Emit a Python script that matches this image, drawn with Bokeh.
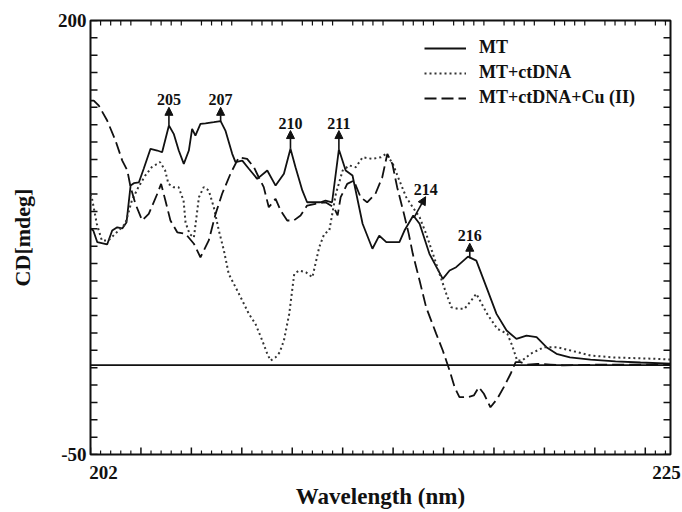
import math
from bokeh.plotting import figure
from bokeh.models import (Range1d, LinearAxis, FixedTicker, Span, LabelSet,
                          Arrow, NormalHead, ColumnDataSource, Legend, LegendItem)
from bokeh.embed import file_html
from bokeh.resources import INLINE

# ---------------- data ----------------
mt_x = [202.0, 202.11, 202.27, 202.66, 202.86, 203.06, 203.26, 203.43, 203.59, 203.72,
        203.92, 204.11, 204.38, 204.65, 204.84, 205.11, 205.30, 205.50, 205.70, 205.90,
        206.03, 206.16, 206.36, 206.56, 206.89, 207.16, 207.35, 207.62, 207.75, 208.02,
        208.28, 208.61, 209.01, 209.34, 209.67, 209.93, 210.13, 210.40, 210.59, 211.12,
        211.32, 211.58, 211.85, 212.12, 212.39, 212.79, 213.18, 213.45, 213.73, 213.99,
        214.25, 214.45, 214.80, 215.05, 215.44, 215.97, 216.24, 216.50, 216.97, 217.30,
        217.70, 218.10, 218.50, 218.89, 219.29, 219.69, 220.08, 220.48, 221.01, 221.83,
        222.82, 223.81, 225.0]
mt_y = [80.2, 79.0, 72.3, 71.0, 79.0, 80.9, 80.2, 83.8, 104.9, 106.3,
        106.8, 114.6, 126.1, 125.1, 124.1, 139.5, 134.7, 125.1, 117.4, 125.1,
        137.6, 133.7, 140.5, 140.8, 141.4, 142.0, 136.6, 123.2, 118.4, 119.3,
        114.6, 108.8, 113.6, 104.9, 111.7, 126.1, 115.5, 102.1, 95.3, 95.3,
        96.3, 95.3, 125.7, 113.6, 110.7, 82.9, 68.5, 76.1, 72.3, 72.3,
        72.3, 79.0, 87.7, 82.9, 65.6, 51.2, 56.0, 57.9, 64.0, 61.7,
        46.4, 31.0, 21.4, 16.6, 18.5, 17.6, 11.8, 8.0, 6.0, 4.7,
        3.6, 3.0, 2.4]

ct_x = [202.0, 202.05, 202.25, 202.45, 202.71, 203.11, 203.38, 203.64, 203.90, 204.17,
        204.43, 204.76, 204.96, 205.09, 205.29, 205.49, 205.69, 205.77, 205.93, 206.10,
        206.30, 206.49, 206.69, 206.89, 207.09, 207.29, 207.48, 207.75, 208.02, 208.28,
        208.54, 208.81, 209.01, 209.14, 209.34, 209.50, 209.67, 209.88, 210.08, 210.28,
        210.54, 210.80, 211.07, 211.27, 211.47, 211.73, 212.00, 212.26, 212.52, 212.79,
        213.18, 213.51, 213.73, 213.99, 214.25, 214.52, 214.78, 215.05, 215.31, 215.58,
        215.84, 216.11, 216.31, 216.57, 216.83, 217.10, 217.30, 217.73, 218.13, 218.53,
        218.72, 218.92, 219.12, 219.45, 219.98, 220.51, 221.04, 221.83, 222.75, 224.08,
        225.0]
ct_y = [100.0, 98.2, 82.9, 73.3, 73.3, 79.0, 82.9, 96.3, 104.0, 110.7,
        115.5, 118.4, 113.6, 105.9, 104.0, 104.0, 96.3, 83.6, 77.0, 75.0,
        98.2, 104.0, 102.1, 92.4, 79.0, 67.5, 54.1, 46.4, 38.7, 31.0,
        25.3, 15.7, 8.0, 4.1, 6.0, 8.8, 15.7, 31.0, 54.1, 56.0,
        55.0, 52.1, 69.4, 77.1, 79.0, 100.2, 113.6, 116.5, 115.5, 121.2,
        120.3, 121.2, 123.2, 117.4, 107.8, 98.2, 92.4, 86.7, 77.1, 65.6,
        54.1, 42.6, 34.8, 33.9, 33.9, 38.7, 42.6, 31.0, 22.4, 19.5,
        12.8, 4.1, 4.1, 8.0, 11.8, 11.8, 9.9, 7.0, 5.9, 5.3,
        4.7]

cu_x = [202.0, 202.13, 202.33, 202.66, 202.99, 203.26, 203.46, 203.59, 203.78, 204.05,
        204.31, 204.65, 204.80, 204.97, 205.17, 205.44, 205.77, 206.10, 206.36, 206.69,
        206.96, 207.22, 207.55, 207.88, 208.21, 208.48, 208.67, 208.87, 209.07, 209.34,
        209.54, 209.80, 210.06, 210.33, 210.59, 210.92, 211.32, 211.65, 211.80, 211.92,
        212.18, 212.44, 212.71, 212.97, 213.30, 213.57, 213.77, 213.97, 214.16, 214.43,
        214.62, 214.78, 215.05, 215.31, 215.71, 215.97, 216.24, 216.44, 216.63, 216.94,
        217.20, 217.40, 217.60, 217.86, 218.13, 218.39, 218.66, 218.86, 219.05, 219.32,
        219.72, 220.24, 220.77, 222.23, 223.81, 225.0]
cu_y = [153.9, 153.9, 151.0, 142.4, 130.9, 119.3, 113.6, 104.0, 94.4, 84.8,
        88.6, 100.2, 105.9, 96.3, 84.8, 78.0, 77.1, 71.4, 63.6, 73.3,
        88.6, 100.2, 111.7, 121.2, 120.3, 115.5, 109.7, 104.0, 92.4, 97.3,
        90.5, 84.8, 84.8, 87.7, 93.4, 94.4, 95.3, 92.4, 87.7, 98.2,
        105.9, 107.8, 98.2, 95.3, 100.2, 109.7, 123.2, 117.4, 104.0, 88.6,
        77.1, 65.6, 50.2, 34.8, 19.5, 9.9, -1.6, -11.2, -17.0, -17.0,
        -16.0, -11.2, -15.0, -22.8, -17.9, -11.2, -3.5, 3.2, 3.2, 1.8,
        2.2, 1.8, 1.3, 1.8, 1.8, 1.8]

series_names = ["MT", "MT+ctDNA", "MT+ctDNA+Cu (II)"]

# peak annotations (arrow from peak to tip, label above tip)
ann_text = ["205", "207", "210", "211", "214", "216"]
ann_x0 = [205.11, 207.16, 209.93, 211.85, 214.85, 217.04]
ann_y0 = [139.5, 142.0, 126.1, 125.7, 87.0, 63.0]
ann_x1 = [205.11, 207.16, 209.93, 211.85, 215.29, 217.04]
ann_y1 = [150.0, 150.0, 136.6, 136.6, 98.5, 71.7]

# axes
x_range = (202, 225)
y_range = (-50, 200)
x_tick_labels = ["202", "225"]
x_tick_label_pos = [202.52, 224.84]   # where the printed labels sit
y_tick_labels = ["-50", "200"]
x_title = "Wavelength (nm)"
y_title = "CD[mdeg]"
baseline = 1.5

FONT = "Liberation Serif"
INK = "#111111"

p = figure(width=682, height=512, x_range=Range1d(*x_range), y_range=Range1d(*y_range),
           output_backend="svg", toolbar_location=None,
           x_axis_type=None, y_axis_type=None,
           min_border_left=90, min_border_right=12, min_border_top=20, min_border_bottom=58)
p.outline_line_color = INK
p.outline_line_width = 2
p.background_fill_color = "white"
p.border_fill_color = "white"

y_ticks = list(range(y_range[0], y_range[1] + 1, 10))
x_major = list(range(x_range[0], x_range[1] + 1, 2))
x_minor = [round(x_range[0] + 0.4 * k, 2) for k in range(int((x_range[1] - x_range[0]) / 0.4) + 1)]
x_minor_only = [t for t in x_minor if all(abs(t - m) > 1e-6 for m in x_major)]

# left axis: only 200 and -50 labelled, plus the title
left = LinearAxis(ticker=FixedTicker(ticks=y_ticks), axis_line_color=None,
                  major_tick_line_color=None, minor_tick_line_color=None,
                  major_tick_in=0, major_tick_out=0, minor_tick_in=0, minor_tick_out=0,
                  major_label_overrides={t: (str(t) if str(t) in y_tick_labels else "") for t in y_ticks},
                  major_label_text_font=FONT, major_label_text_font_style="bold",
                  major_label_text_font_size="19px", major_label_text_color=INK,
                  major_label_standoff=4,
                  axis_label=y_title, axis_label_text_font=FONT,
                  axis_label_text_font_style="bold", axis_label_text_font_size="22px",
                  axis_label_text_color=INK, axis_label_standoff=20)
p.add_layout(left, "left")

# bottom axis carrying only the printed labels and the title
blab = LinearAxis(ticker=FixedTicker(ticks=x_tick_label_pos), axis_line_color=None,
                  major_tick_line_color=None, minor_tick_line_color=None,
                  major_tick_in=0, major_tick_out=0, minor_tick_in=0, minor_tick_out=0,
                  major_label_overrides={pos: lab for pos, lab in zip(x_tick_label_pos, x_tick_labels)},
                  major_label_text_font=FONT, major_label_text_font_style="bold",
                  major_label_text_font_size="19px", major_label_text_color=INK,
                  major_label_standoff=11,
                  axis_label=x_title, axis_label_text_font=FONT,
                  axis_label_text_font_style="bold", axis_label_text_font_size="23px",
                  axis_label_text_color=INK, axis_label_standoff=2)
p.add_layout(blab, "below")

# inward tick marks on all four sides (drawn with rays of fixed screen length)
tick_kw = dict(line_color=INK, length_units="screen")
p.ray(x=[x_range[0]] * len(y_ticks), y=y_ticks, length=7, angle=0, line_width=1.5, **tick_kw)
p.ray(x=[x_range[1]] * len(y_ticks), y=y_ticks, length=7, angle=math.pi, line_width=1.5, **tick_kw)
p.ray(x=x_major, y=[y_range[0]] * len(x_major), length=7, angle=math.pi / 2, line_width=1.5, **tick_kw)
p.ray(x=x_minor_only, y=[y_range[0]] * len(x_minor_only), length=4, angle=math.pi / 2,
      line_width=1.2, **tick_kw)
p.ray(x=x_minor_only, y=[y_range[1]] * len(x_minor_only), length=5, angle=-math.pi / 2,
      line_width=1.2, **tick_kw)

# baseline
p.add_layout(Span(location=baseline, dimension="width", line_color=INK, line_width=1.8))

# curves
r_mt = p.line(mt_x, mt_y, line_color=INK, line_width=1.8)
r_ct = p.line(ct_x, ct_y, line_color="#333333", line_width=2, line_dash="2 3")
r_cu = p.line(cu_x, cu_y, line_color=INK, line_width=1.8, line_dash="12 5")

# annotations
ann_src = ColumnDataSource(dict(x0=ann_x0, y0=ann_y0, x1=ann_x1, y1=ann_y1, text=ann_text))
p.add_layout(Arrow(end=NormalHead(size=8, fill_color=INK, line_color=INK),
                   x_start="x0", y_start="y0", x_end="x1", y_end="y1",
                   line_color=INK, line_width=1.6, source=ann_src))
p.add_layout(LabelSet(x="x1", y="y1", text="text", source=ann_src, y_offset=2,
                      text_align="center", text_baseline="bottom",
                      text_font=FONT, text_font_style="bold", text_font_size="16px",
                      text_color=INK))

# legend
legend = Legend(items=[LegendItem(label=series_names[0], renderers=[r_mt]),
                       LegendItem(label=series_names[1], renderers=[r_ct]),
                       LegendItem(label=series_names[2], renderers=[r_cu])],
                location=(334, 346), orientation="vertical",
                label_text_font=FONT, label_text_font_style="bold",
                label_text_font_size="18px", label_text_color=INK,
                glyph_width=42, glyph_height=20, label_height=20, spacing=4,
                padding=0, margin=0, label_standoff=13,
                border_line_alpha=0, background_fill_alpha=0)
p.add_layout(legend)

open("out.html", "w").write(file_html(p, INLINE))
